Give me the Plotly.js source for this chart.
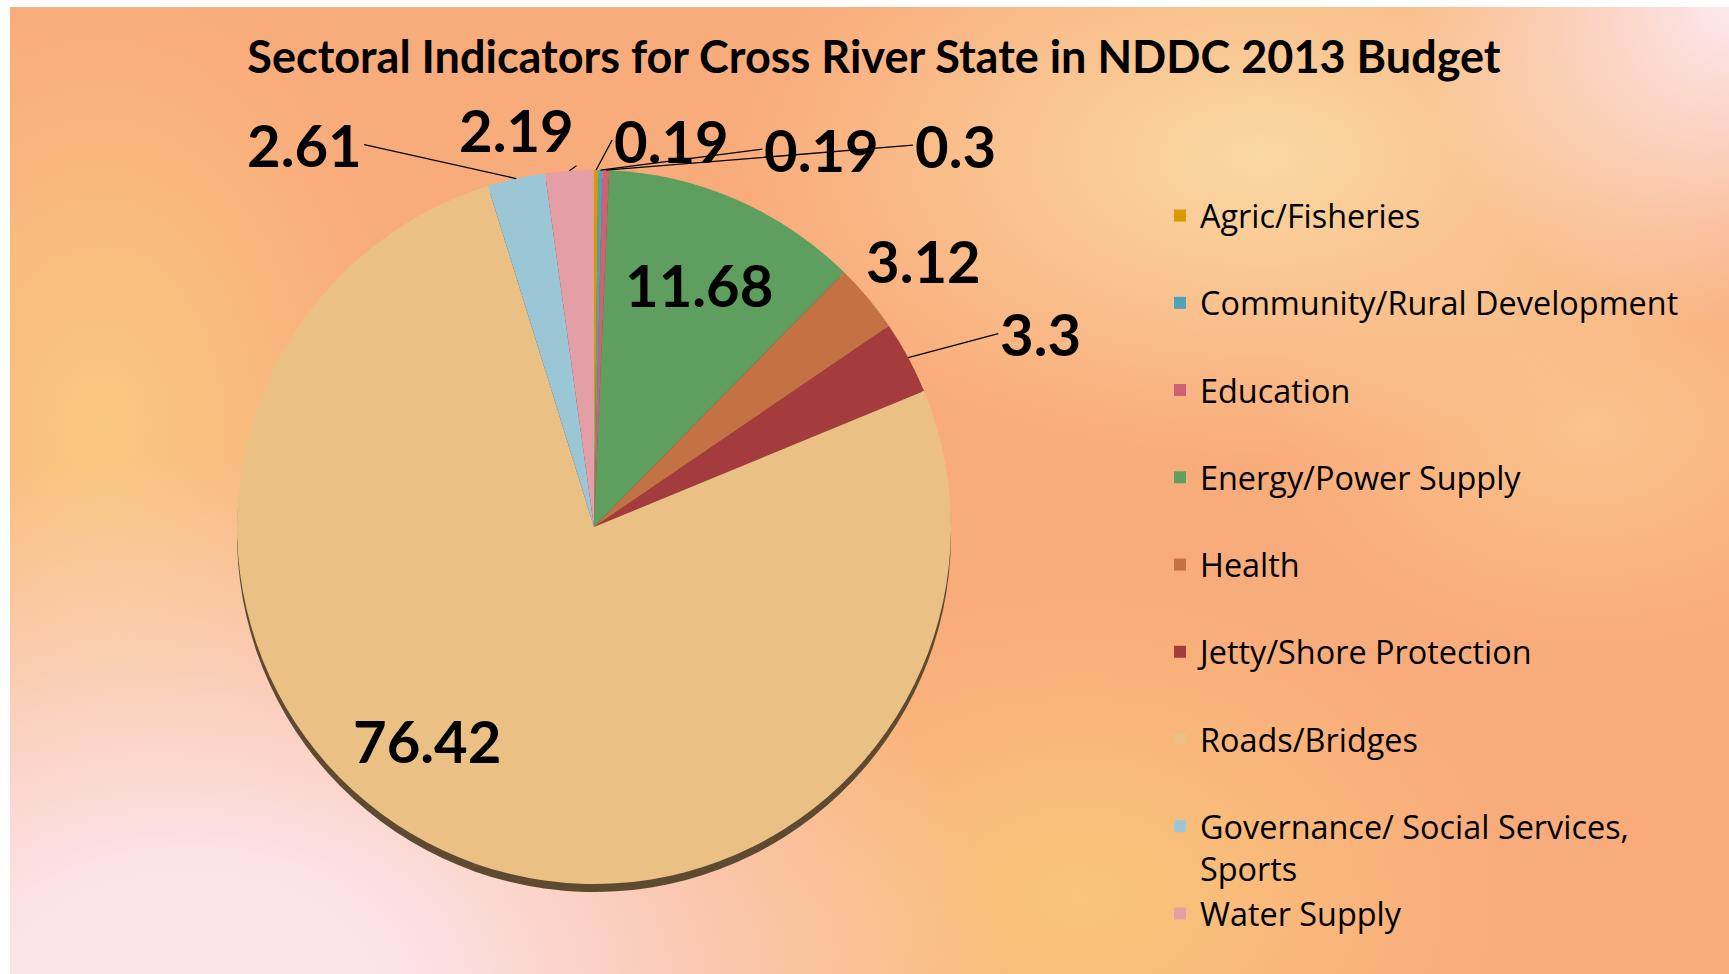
<!DOCTYPE html>
<html>
<head>
<meta charset="utf-8">
<script src="https://cdn.plot.ly/plotly-3.0.1.min.js"></script>
<style>
  html, body { margin: 0; padding: 0; width: 1729px; height: 974px; overflow: hidden; background: #ffffff; }
  #bg {
    position: absolute; left: 10px; top: 7px; width: 1719px; height: 967px;
    background:
      radial-gradient(circle at 1719px 0px, rgba(253,232,238,1) 0px, rgba(253,232,238,0) 320px),
      radial-gradient(ellipse 820px 540px at 180px 990px, rgba(252,229,236,1) 0px, rgba(252,229,236,0.95) 220px, rgba(252,229,236,0) 100%),
      radial-gradient(ellipse 520px 300px at 1250px 150px, rgba(250,216,162,1) 0px, rgba(250,216,162,0) 100%),
      radial-gradient(ellipse 300px 440px at 90px 420px, rgba(249,200,128,1) 0px, rgba(249,200,128,0) 100%),
      radial-gradient(ellipse 420px 300px at 1070px 890px, rgba(249,197,122,1) 0px, rgba(249,197,122,0) 100%),
      radial-gradient(ellipse 320px 220px at 1580px 420px, rgba(250,200,145,0.8) 0px, rgba(250,200,145,0) 100%),
      #F9AC7B;
  }
  #chart { position: absolute; left: 0; top: 0; width: 1729px; height: 974px; }
</style>
</head>
<body>
<div id="bg"></div>
<div id="chart"></div>
<script>
// ---- data ----
const categories = [
  "Agric/Fisheries",
  "Community/Rural Development",
  "Education",
  "Energy/Power Supply",
  "Health",
  "Jetty/Shore Protection",
  "Roads/Bridges",
  "Governance/ Social Services,<br>Sports",
  "Water Supply"
];
const values = [0.19, 0.19, 0.3, 11.68, 3.12, 3.3, 76.42, 2.61, 2.19];
const titleText = "Sectoral Indicators for Cross River State in NDDC 2013 Budget";

// ---- styles ----
const colors = ["#D89A00", "#4FA3B8", "#CF6172", "#5E9F60", "#C47244", "#A43C3E", "#EAC085", "#9BC6D6", "#E49EA6"];
// label placement: radius fraction, pixel offsets of the label from that point, anchors
const labelRadius = [1, 1, 1, 0.74, 1, 1, 0.78, 1, 1];
const labelInside = [false, false, false, true, false, false, true, false, false];
const labelDX = [16, 162, 307, 0, 56, 90, -49, -152, 7];
const labelDY = [-30, -21, -25, 0, -38, -24, -39, -34, -5];
const labelXAnchor = ["left", "left", "left", "center", "center", "left", "center", "right", "right"];
const labelYAnchor = ["middle", "middle", "middle", "middle", "middle", "middle", "middle", "middle", "bottom"];
const labelLine = [true, true, true, false, false, true, false, true, true];

// legend labels padded to two lines each (as in the reference layout)
const legendLabels = categories.map(c => c.indexOf("<br>") >= 0 ? c : c + "<br> ");

const W = 1729, H = 974;
const cx = 594, cy = 527, R = 357;
const dom = {
  x: [(cx - R) / W, (cx + R) / W],
  y: [(H - cy - R) / H, (H - cy + R) / H]
};
const shadowOff = 8 / H;

const shadow = {
  type: "pie",
  labels: legendLabels,
  values: values,
  sort: false,
  direction: "clockwise",
  rotation: 0,
  domain: { x: dom.x, y: [dom.y[0] - shadowOff, dom.y[1] - shadowOff] },
  marker: { colors: values.map(() => "#5E4A31"), line: { width: 0 } },
  textinfo: "none",
  hoverinfo: "skip",
  showlegend: false
};

const pie = {
  type: "pie",
  labels: legendLabels,
  values: values,
  sort: false,
  direction: "clockwise",
  rotation: 0,
  domain: dom,
  marker: { colors: colors, line: { width: 0 } },
  textinfo: "none",
  hoverinfo: "label+value",
  showlegend: true
};

// value labels placed relative to each slice's mid-angle (computed from the data)
const total = values.reduce((a, b) => a + b, 0);
let cum = 0;
const annotations = values.map((v, i) => {
  const mid = (cum + v / 2) / total * 2 * Math.PI;
  cum += v;
  const r = R * labelRadius[i];
  const px = cx + r * Math.sin(mid);
  const py = cy - r * Math.cos(mid);
  const a = {
    x: px / W, y: 1 - py / H, xref: "paper", yref: "paper",
    text: String(v),
    font: { family: "Lato, sans-serif", size: 58, color: "#000000", weight: "bold" },
    xanchor: labelXAnchor[i], yanchor: labelYAnchor[i]
  };
  if (labelInside[i]) {
    a.showarrow = false;
    a.xshift = labelDX[i];
    a.yshift = -labelDY[i];
  } else {
    a.showarrow = true;
    a.arrowhead = 0;
    a.arrowwidth = 1.3;
    a.arrowcolor = labelLine[i] ? "#000000" : "rgba(0,0,0,0)";
    a.ax = labelDX[i];
    a.ay = labelDY[i];
  }
  return a;
});

const layout = {
  width: W, height: H,
  margin: { l: 0, r: 0, t: 0, b: 0, autoexpand: false },
  paper_bgcolor: "rgba(0,0,0,0)",
  plot_bgcolor: "rgba(0,0,0,0)",
  title: {
    text: titleText,
    x: 874 / W, xref: "paper", xanchor: "center",
    y: 1 - 57 / H, yref: "container", yanchor: "middle",
    font: { family: "Lato, sans-serif", size: 45, color: "#000000", weight: "bold" }
  },
  legend: {
    x: 1160 / W, xref: "container", xanchor: "left",
    y: 1 - 188 / H, yref: "container", yanchor: "top",
    valign: "top",
    maxheight: 900,
    bgcolor: "rgba(0,0,0,0)",
    font: { family: "Open Sans, sans-serif", size: 32.4, color: "#000000" },
    traceorder: "normal"
  },
  annotations: annotations,
  showlegend: true
};

Plotly.newPlot("chart", [shadow, pie], layout, { displayModeBar: false, staticPlot: true });
</script>
</body>
</html>
